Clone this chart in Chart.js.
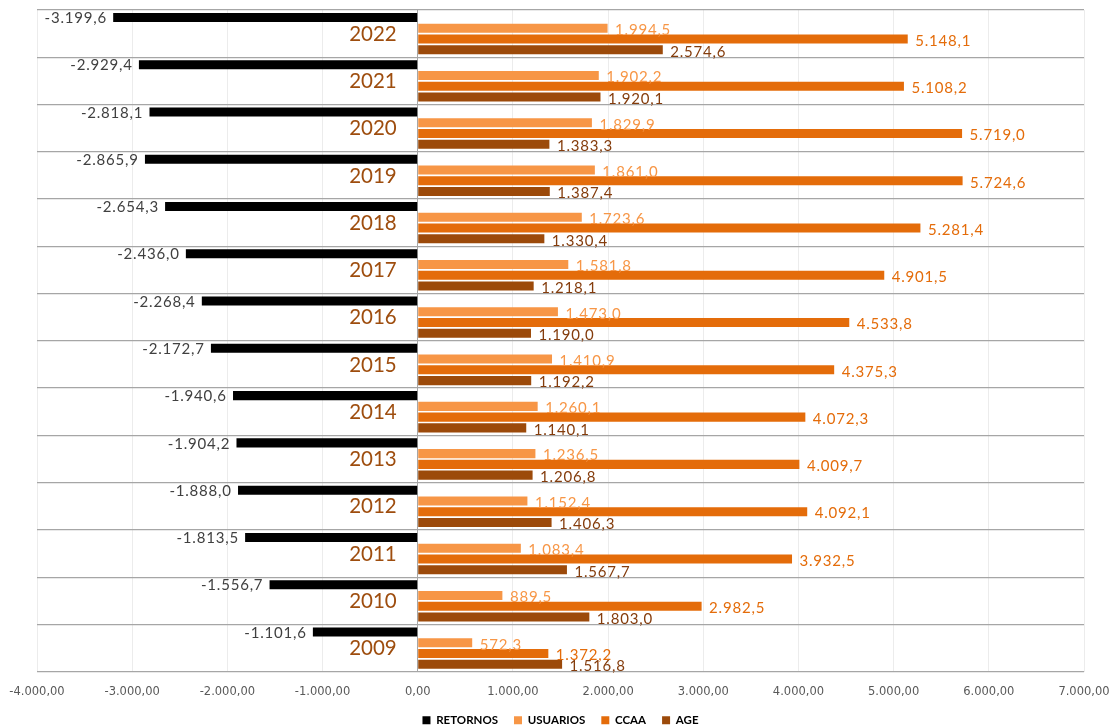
<!DOCTYPE html>
<html><head><meta charset="utf-8">
<script src="https://cdn.jsdelivr.net/npm/chart.js@4.4.0/dist/chart.umd.min.js"></script>
<style>html,body{margin:0;padding:0;background:#fff;overflow:hidden}#wrap{width:1115px;height:736px}</style>
</head><body><div id="wrap"><canvas id="c" width="1115" height="736"></canvas></div>
<script>
const years = ['2022','2021','2020','2019','2018','2017','2016','2015','2014','2013','2012','2011','2010','2009'];
const retornos = [-3199.6,-2929.4,-2818.1,-2865.9,-2654.3,-2436.0,-2268.4,-2172.7,-1940.6,-1904.2,-1888.0,-1813.5,-1556.7,-1101.6];
const usuarios = [1994.5,1902.2,1829.9,1861.0,1723.6,1581.8,1473.0,1410.9,1260.1,1236.5,1152.4,1083.4,889.5,572.3];
const ccaa = [5148.1,5108.2,5719.0,5724.6,5281.4,4901.5,4533.8,4375.3,4072.3,4009.7,4092.1,3932.5,2982.5,1372.2];
const age = [2574.6,1920.1,1383.3,1387.4,1330.4,1218.1,1190.0,1192.2,1140.1,1206.8,1406.3,1567.7,1803.0,1516.8];
const seriesNames = ['RETORNOS','USUARIOS','CCAA','AGE'];
const xMin = -4000, xMax = 7000, xStep = 1000;

const barColors = ['#000000','#F79646','#E46C0A','#9C4A0A'];
const labelColors = ['#404040','#F79646','#E46C0A','#843C0C'];
const yearColor = '#9E4D0E';

function fmtEs(v, dec) {
  const neg = v < 0;
  const s = Math.abs(v).toFixed(dec);
  let parts = s.split('.');
  let ip = parts[0].replace(/\B(?=(\d{3})+(?!\d))/g, '.');
  return (neg ? '-' : '') + ip + (parts[1] !== undefined ? ',' + parts[1] : '');
}

const valueLabels = {
  id: 'valueLabels',
  afterDatasetsDraw(chart) {
    const ctx = chart.ctx;
    const xs = chart.scales.x, ys = chart.scales.y;
    ctx.save();
    // year labels
    ctx.font = '20.5px Lato';
    ctx.fillStyle = yearColor;
    ctx.textAlign = 'right';
    ctx.textBaseline = 'middle';
    const x0 = xs.getPixelForValue(0);
    chart.data.labels.forEach((lab, j) => {
      ctx.fillText(lab, x0 - 21, ys.getPixelForValue(j) + 0.5);
    });
    // value labels
    ctx.font = '15px Lato';
    if ('letterSpacing' in ctx) ctx.letterSpacing = '0.8px';
    chart.data.datasets.forEach((ds, i) => {
      const meta = chart.getDatasetMeta(i);
      meta.data.forEach((bar, j) => {
        const v = ds.data[j];
        ctx.fillStyle = labelColors[i];
        if (v < 0) {
          ctx.textAlign = 'right';
          ctx.fillText(fmtEs(v, 1), bar.x - 6.2, bar.y + 0.8);
        } else {
          ctx.textAlign = 'left';
          ctx.fillText(fmtEs(v, 1), bar.x + 7.5, bar.y + 2);
        }
      });
    });
    ctx.restore();
  }
};

const seriesData = [retornos, usuarios, ccaa, age];
new Chart(document.getElementById('c'), {
  type: 'bar',
  data: {
    labels: years,
    datasets: seriesNames.map((n, i) => ({
      label: n,
      data: seriesData[i],
      backgroundColor: barColors[i],
      borderWidth: 0,
      categoryPercentage: 0.91,
      barPercentage: 0.84
    }))
  },
  options: {
    indexAxis: 'y',
    responsive: false,
    animation: false,
    devicePixelRatio: 1,
    layout: { padding: { top: 10, left: 37, right: 31, bottom: 0 } },
    plugins: {
      legend: {
        position: 'bottom',
        labels: {
          boxWidth: 8, boxHeight: 8, padding: 16, color: '#000',
          font: { family: 'Lato', size: 11.5, weight: 'bold' }
        }
      },
      tooltip: { enabled: false }
    },
    scales: {
      x: {
        min: xMin, max: xMax,
        ticks: {
          stepSize: xStep,
          color: '#595959',
          padding: 0,
          font: { family: 'DejaVu Sans', size: 11.5 },
          callback: v => fmtEs(v, 2),
          maxRotation: 0
        },
        grid: {
          drawTicks: true,
          tickLength: 13,
          tickColor: 'rgba(0,0,0,0)',
          color: c => (c.tick && c.tick.value === 0) ? '#a6a6a6' : '#ececec',
          lineWidth: 1
        },
        border: { display: false }
      },
      y: {
        type: 'category',
        offset: true,
        ticks: { display: false },
        grid: { offset: true, drawTicks: false, color: '#a6a6a6', lineWidth: 1.3 },
        border: { display: false },
        afterFit: s => { s.width = 0; }
      }
    }
  },
  plugins: [valueLabels]
});
</script>
</body></html>
